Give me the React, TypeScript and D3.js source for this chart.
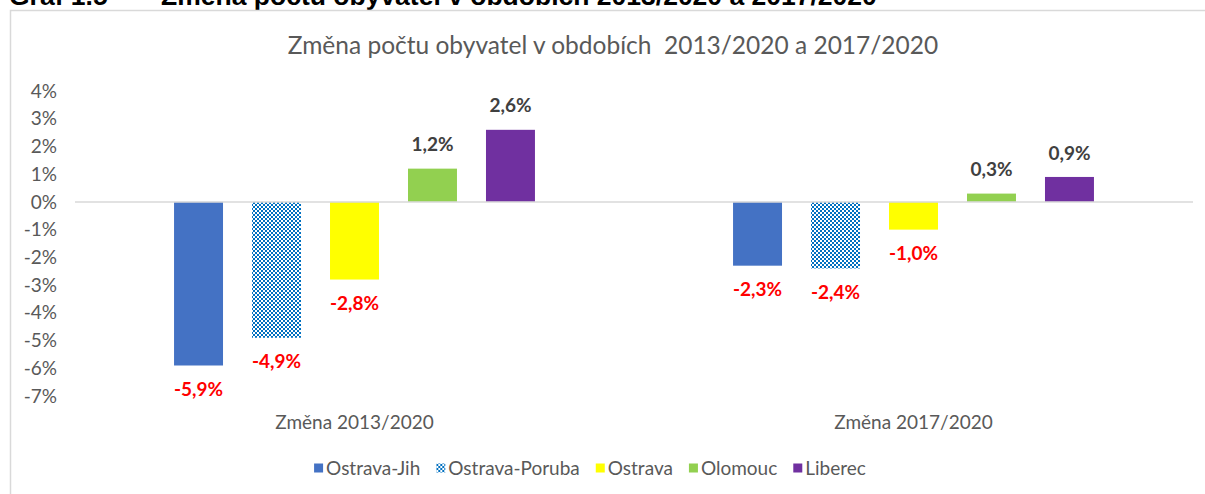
import React, { useEffect, useRef } from "react";
import * as d3 from "d3";

const groups = ["Změna 2013/2020", "Změna 2017/2020"];
const seriesNames = ["Ostrava-Jih", "Ostrava-Poruba", "Ostrava", "Olomouc", "Liberec"];
const seriesColors = ["#4472C4", "url(#checker)", "#FFFF00", "#92D050", "#7030A0"];
const ostravaJih = [-5.9, -2.3];
const ostravaPoruba = [-4.9, -2.4];
const ostrava = [-2.8, -1.0];
const olomouc = [1.2, 0.3];
const liberec = [2.6, 0.9];
const seriesValues = [ostravaJih, ostravaPoruba, ostrava, olomouc, liberec];
const yTicks = [4, 3, 2, 1, 0, -1, -2, -3, -4, -5, -6, -7];
const chartTitle = "Změna počtu obyvatel v obdobích  2013/2020 a 2017/2020";
const headerLabel = "Graf 1.5";
const headerTitle = "Změna počtu obyvatel v obdobích 2013/2020 a 2017/2020";

const W = 1205;
const H = 494;
const FONT = "Lato, 'Open Sans', sans-serif";

export default function App() {
  const ref = useRef<SVGSVGElement | null>(null);

  useEffect(() => {
    const svg = d3.select(ref.current);
    svg.selectAll("*").remove();

    const defs = svg.append("defs");
    const pat = defs
      .append("pattern")
      .attr("id", "checker")
      .attr("patternUnits", "userSpaceOnUse")
      .attr("width", 4)
      .attr("height", 4);
    pat.append("rect").attr("width", 4).attr("height", 4).attr("fill", "#ffffff");
    pat.append("rect").attr("x", 0).attr("y", 0).attr("width", 2).attr("height", 2).attr("fill", "#0070C0");
    pat.append("rect").attr("x", 2).attr("y", 2).attr("width", 2).attr("height", 2).attr("fill", "#0070C0");

    svg.append("rect").attr("width", W).attr("height", H).attr("fill", "#ffffff");

    // header (cut off at the top, as in the source)
    svg
      .append("text")
      .attr("x", 9)
      .attr("y", 4.5)
      .attr("font-family", "'Liberation Sans', Arial, sans-serif")
      .attr("font-weight", "bold")
      .attr("font-size", 26.5)
      .attr("fill", "#000")
      .text(headerLabel);
    svg
      .append("text")
      .attr("x", 161)
      .attr("y", 4.5)
      .attr("font-family", "'Liberation Sans', Arial, sans-serif")
      .attr("font-weight", "bold")
      .attr("font-size", 26.5)
      .attr("fill", "#000")
      .text(headerTitle);

    // frame
    svg
      .append("path")
      .attr("d", `M10.5,${H} V10.5 H${W}`)
      .attr("fill", "none")
      .attr("stroke", "#d9d9d9")
      .attr("stroke-width", 1.5);

    // title
    svg
      .append("text")
      .attr("x", 613)
      .attr("y", 54)
      .attr("text-anchor", "middle")
      .attr("font-family", FONT)
      .attr("font-size", 24.5)
      .attr("fill", "#595959")
      .style("white-space", "pre")
      .text(chartTitle);

    const y = d3.scaleLinear().domain([-7, 4]).range([396, 91]);
    const x0 = d3.scaleBand<string>().domain(groups).range([75, 1193]).padding(0);
    const x1 = d3
      .scaleBand<string>()
      .domain(seriesNames)
      .range([0, x0.bandwidth()])
      .paddingInner(0.372)
      .paddingOuter(1.27);

    // y axis labels
    svg
      .append("g")
      .selectAll("text")
      .data(yTicks)
      .join("text")
      .attr("x", 57)
      .attr("y", (d) => y(d))
      .attr("dy", "0.35em")
      .attr("text-anchor", "end")
      .attr("font-family", FONT)
      .attr("font-size", 19)
      .attr("fill", "#595959")
      .text((d) => `${d}%`);

    // bars
    const gGroups = svg
      .append("g")
      .selectAll("g")
      .data(groups)
      .join("g")
      .attr("transform", (g) => `translate(${x0(g)},0)`);

    gGroups.each(function (_g, gi) {
      const sel = d3.select(this);
      seriesNames.forEach((s, si) => {
        const v = seriesValues[si][gi];
        sel
          .append("rect")
          .attr("x", x1(s)!)
          .attr("width", x1.bandwidth())
          .attr("y", Math.min(y(v), y(0)))
          .attr("height", Math.abs(y(v) - y(0)))
          .attr("fill", seriesColors[si]);
        sel
          .append("text")
          .attr("x", x1(s)! + x1.bandwidth() / 2)
          .attr("y", v >= 0 ? y(v) - 24 : y(v) + 24)
          .attr("dy", "0.35em")
          .attr("text-anchor", "middle")
          .attr("font-family", FONT)
          .attr("font-weight", "bold")
          .attr("font-size", 19)
          .attr("fill", v >= 0 ? "#404040" : "#FF0000")
          .text(`${d3.format(".1f")(v).replace(".", ",").replace("−", "-")}%`);
      });
    });

    // zero line
    svg
      .append("line")
      .attr("x1", 75)
      .attr("x2", 1193)
      .attr("y1", y(0))
      .attr("y2", y(0))
      .attr("stroke", "#d9d9d9")
      .attr("stroke-width", 1.5);

    // category labels
    svg
      .append("g")
      .selectAll("text")
      .data(groups)
      .join("text")
      .attr("x", (g) => x0(g)! + x0.bandwidth() / 2)
      .attr("y", 422)
      .attr("dy", "0.35em")
      .attr("text-anchor", "middle")
      .attr("font-family", FONT)
      .attr("font-size", 19)
      .attr("fill", "#595959")
      .text((g) => g);

    // legend
    const leg = svg.append("g");
    const items = seriesNames.map((s, i) => {
      const g = leg.append("g");
      g.append("rect").attr("x", 0).attr("y", -4.5).attr("width", 9).attr("height", 9).attr("fill", seriesColors[i]);
      const t = g
        .append("text")
        .attr("x", 12)
        .attr("y", 0)
        .attr("dy", "0.35em")
        .attr("font-family", FONT)
        .attr("font-size", 19)
        .attr("fill", "#595959")
        .text(s);
      const w = (t.node() as SVGTextElement).getComputedTextLength();
      return { g, w: 12 + w };
    });
    const gap = 16;
    const total = d3.sum(items, (d) => d.w) + gap * (items.length - 1);
    let cx = 590 - total / 2;
    items.forEach((it) => {
      it.g.attr("transform", `translate(${cx},468)`);
      cx += it.w + gap;
    });
  }, []);

  return (
    <svg
      ref={ref}
      width={W}
      height={H}
      style={{ position: "absolute", left: 0, top: 0, display: "block" }}
    />
  );
}
